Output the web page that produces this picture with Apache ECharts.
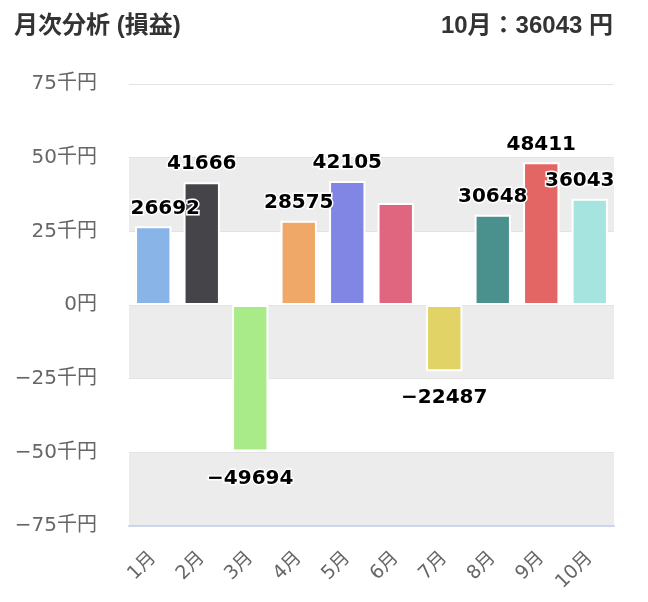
<!DOCTYPE html>
<html>
<head>
<meta charset="utf-8">
<script src="https://cdn.jsdelivr.net/npm/echarts@6/dist/echarts.min.js"></script>
<style>
	html, body { margin: 0; padding: 0; background: #fff; }
	#chart { width: 648px; height: 602px; }
</style>
</head>
<body>
<div id="chart"></div>
<script>
const months = ['1月', '2月', '3月', '4月', '5月', '6月', '7月', '8月', '9月', '10月'];
const profit = [26692, 41666, -49694, 28575, 42105, 34600, -22487, 30648, 48411, 36043];
const barColors = ['#89b4e8', '#444449', '#a8eb88', '#f0a868', '#8186e4', '#e0667f', '#e2d366', '#4a908c', '#e46664', '#a6e5df'];
const hiddenLabels = ['6月'];
const titleText = '月次分析 (損益)';
const summaryText = '10月：36043 円';

const chart = echarts.init(document.getElementById('chart'));

// 負の値は幅のあるマイナス記号で表示
const minus = (s) => String(s).replace('-', '\u2212');

const headStyle = { fontFamily: 'Liberation Sans, Noto Sans CJK JP', fontSize: 24, fontWeight: 'bold', color: '#333' };

// 端のラベルはプロット領域内に寄せる
const labelShift = (i) => (i === 0 ? 12 : i === months.length - 1 ? -10 : 0);

const option = {
	animation: false,
	title: [
		{ text: titleText, left: 9, top: 9, textStyle: headStyle },
		{ text: summaryText, right: 30, top: 9, textStyle: headStyle },
	],
	grid: { left: 129, right: 34, top: 84, bottom: 76 },
	xAxis: {
		type: 'category',
		data: months,
		axisLine: { onZero: false, lineStyle: { color: '#ccd6eb', width: 2 } },
		axisTick: { show: false },
		axisLabel: {
			rotate: 45,
			margin: 29,
			fontSize: 19,
			color: '#666',
			fontFamily: 'DejaVu Sans, Noto Sans CJK JP',
		},
	},
	yAxis: {
		type: 'value',
		min: -75000,
		max: 75000,
		interval: 25000,
		axisLine: { show: false },
		axisTick: { show: false },
		splitLine: { lineStyle: { color: '#e3e3e3', width: 1 } },
		splitArea: { show: true, areaStyle: { color: ['#ececec', '#ffffff'] } },
		axisLabel: {
			margin: 32,
			fontSize: 20,
			color: '#666',
			fontFamily: 'DejaVu Sans, Noto Sans CJK JP',
			formatter: (v) => (v === 0 ? '0円' : minus(v / 1000) + '千円'),
		},
	},
	series: [
		{
			type: 'bar',
			barCategoryGap: '25%',
			itemStyle: { borderColor: '#fff', borderWidth: 2 },
			label: {
				show: true,
				fontFamily: 'DejaVu Sans',
				fontSize: 20,
				fontWeight: 'bold',
				color: '#000',
				textBorderColor: '#fff',
				textBorderWidth: 3,
				formatter: (p) => minus(p.value),
			},
			data: profit.map((v, i) => ({
				value: v,
				itemStyle: { color: barColors[i] },
				label: {
					show: hiddenLabels.indexOf(months[i]) < 0,
					position: v >= 0 ? 'top' : 'bottom',
					distance: v >= 0 ? 8 : 17,
					offset: [labelShift(i), 0],
				},
			})),
		},
	],
};

chart.setOption(option);
</script>
</body>
</html>
